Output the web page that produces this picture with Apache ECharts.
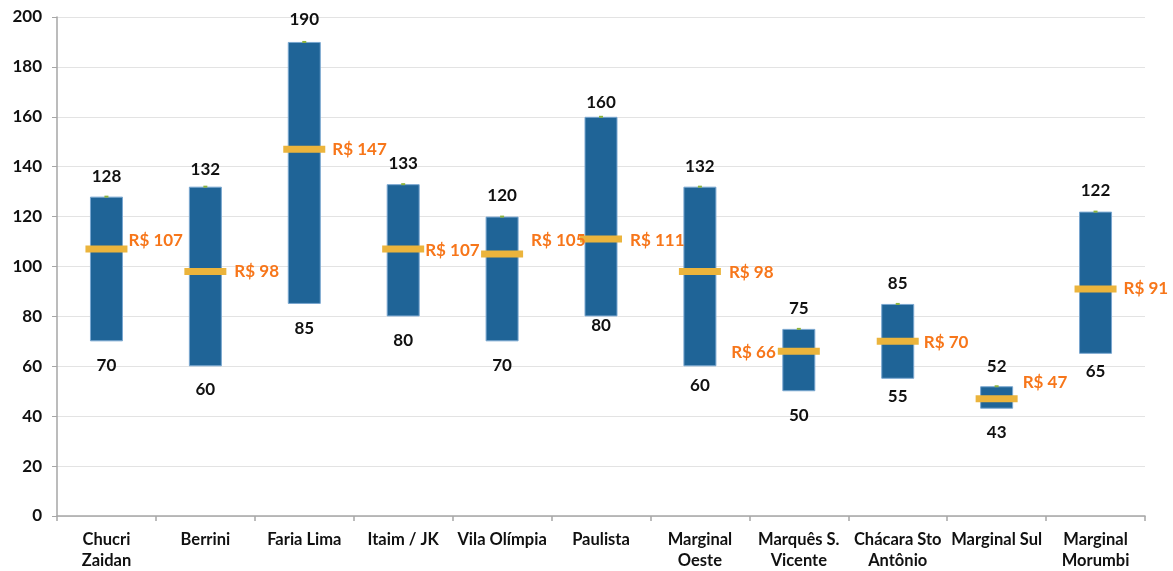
<!DOCTYPE html>
<html>
<head>
<meta charset="utf-8">
<script src="https://cdn.jsdelivr.net/npm/echarts@6/dist/echarts.min.js"></script>
<style>html,body{margin:0;padding:0;background:#fff;}#c{width:1173px;height:571px;}</style>
</head>
<body>
<div id="c"></div>
<script>
const categories = ["Chucri\nZaidan","Berrini","Faria Lima","Itaim / JK","Vila Olímpia","Paulista","Marginal\nOeste","Marquês S.\nVicente","Chácara Sto\nAntônio","Marginal Sul","Marginal\nMorumbi"];
const lowValues  = [70, 60, 85, 80, 70, 80, 60, 50, 55, 43, 65];
const highValues = [128, 132, 190, 133, 120, 160, 132, 75, 85, 52, 122];
const avgValues  = [107, 98, 147, 107, 105, 111, 98, 66, 70, 47, 91];
const yTicks = [0, 20, 40, 60, 80, 100, 120, 140, 160, 180, 200];

// label placement tweaks (styles only)
const highLabelOffset = [-20, -17, -22, -21, -21, -14, -20, -20, -20, -20, -21];
const lowLabelOffset  = [24, 23, 25, 24, 24, 9, 19, 24, 18, 24, 18];
const avgLabelPos = [
  {pos:'right', dist:1, dy:-9}, {pos:'right', dist:8, dy:0}, {pos:'right', dist:7, dy:0},
  {pos:'right', dist:1, dy:1}, {pos:'right', dist:8, dy:-14}, {pos:'right', dist:8, dy:1},
  {pos:'right', dist:8, dy:1}, {pos:'left', dist:2, dy:1}, {pos:'right', dist:5, dy:1},
  {pos:'right', dist:5, dy:-16}, {pos:'right', dist:7, dy:0}
];

const FONT = 'Lato';
const chart = echarts.init(document.getElementById('c'), null, {renderer:'canvas'});

const rangeData = highValues.map((h, i) => h - lowValues[i]);

chart.setOption({
  animation: false,
  grid: {left: 57, right: 28, top: 17, bottom: 54},
  xAxis: {
    type: 'category',
    data: categories,
    boundaryGap: true,
    axisLine: {lineStyle: {color: '#a6a6a6', width: 1.5}},
    axisTick: {show: true, length: 5, alignWithLabel: false, lineStyle: {color: '#a6a6a6', width: 1.5}},
    axisLabel: {interval: 0, color: '#111', fontFamily: FONT, fontWeight: 'bold', fontSize: 16.5, lineHeight: 21, margin: 13}
  },
  yAxis: {
    type: 'value',
    min: yTicks[0], max: yTicks[yTicks.length - 1], interval: 20,
    axisLine: {show: true, lineStyle: {color: '#a6a6a6', width: 1.5}},
    axisTick: {show: true, length: 5, lineStyle: {color: '#a6a6a6'}},
    splitLine: {lineStyle: {color: '#e3e3e3', width: 1}},
    axisLabel: {color: '#111', fontFamily: FONT, fontWeight: 'bold', fontSize: 17, margin: 15}
  },
  series: [
    {
      type: 'bar', stack: 'r', barWidth: 33,
      data: lowValues,
      itemStyle: {color: 'rgba(0,0,0,0)'},
      silent: true
    },
    {
      type: 'bar', stack: 'r', barWidth: 33,
      data: rangeData,
      itemStyle: {color: '#1f6497', borderColor: '#7aa7d0', borderWidth: 1}
    },
    {
      type: 'scatter',
      data: highValues.map((v, i) => ({
        value: [i, v],
        label: {offset: [0, highLabelOffset[i]]}
      })),
      symbol: 'rect', symbolSize: [4, 2],
      itemStyle: {color: '#8db33e', opacity: 1},
      label: {show: true, position: 'inside', formatter: p => String(p.value[1]),
        color: '#111', fontFamily: FONT, fontWeight: 'bold', fontSize: 17},
      z: 5
    },
    {
      type: 'scatter',
      data: lowValues.map((v, i) => ({
        value: [i, v],
        label: {offset: [0, lowLabelOffset[i]]}
      })),
      symbol: 'rect', symbolSize: 1,
      itemStyle: {color: 'rgba(0,0,0,0)', opacity: 1},
      label: {show: true, position: 'inside', formatter: p => String(p.value[1]),
        color: '#111', fontFamily: FONT, fontWeight: 'bold', fontSize: 17},
      z: 5
    },
    {
      type: 'scatter',
      data: avgValues.map((v, i) => ({
        value: [i, v],
        label: {position: avgLabelPos[i].pos, distance: avgLabelPos[i].dist, offset: [0, avgLabelPos[i].dy]}
      })),
      symbol: 'rect', symbolSize: [42, 7],
      itemStyle: {color: '#ebb43c', opacity: 1},
      label: {show: true, formatter: p => 'R$ ' + p.value[1],
        color: '#f7761a', fontFamily: FONT, fontWeight: 'bold', fontSize: 17},
      z: 6
    }
  ]
});
</script>
</body>
</html>
